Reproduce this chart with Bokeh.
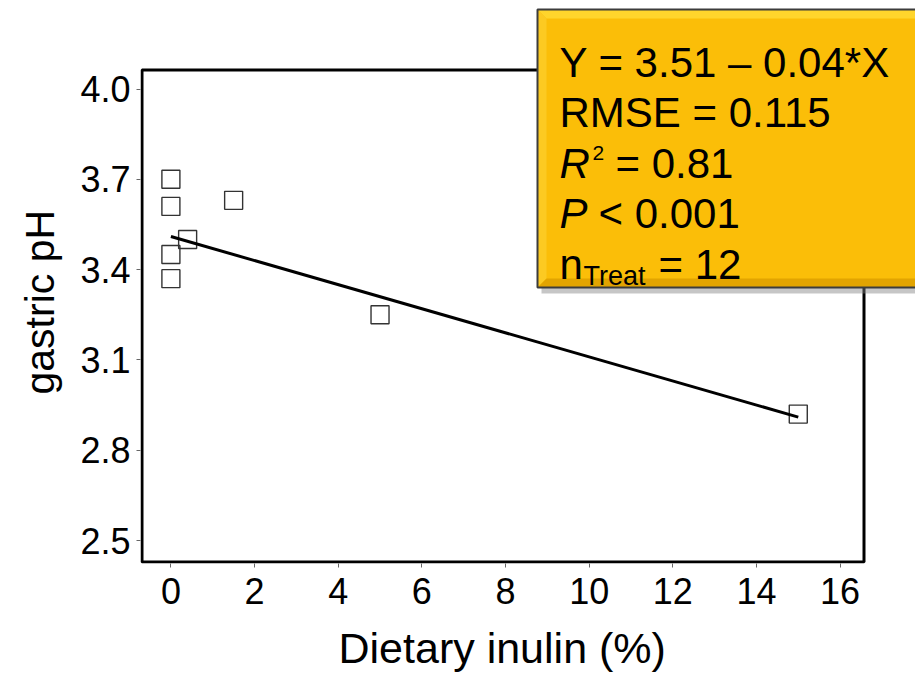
from bokeh.plotting import figure
from bokeh.models import (Range1d, FixedTicker, PrintfTickFormatter, Label, Title,
                          BoxAnnotation, PolyAnnotation, ColumnDataSource)
from bokeh.embed import file_html
from bokeh.resources import INLINE

# ---- data ----
inulin = [0, 0, 0, 0, 0.4, 1.5, 5, 15]
ph = [3.70, 3.61, 3.45, 3.37, 3.50, 3.63, 3.25, 2.92]
fit_x = [0, 15]
fit_y = [3.51, 2.91]
x_ticks = [0, 2, 4, 6, 8, 10, 12, 14, 16]
y_ticks = [2.5, 2.8, 3.1, 3.4, 3.7, 4.0]
x_title = "Dietary inulin (%)"
y_title = "gastric pH"
stats_lines = ["Y = 3.51 \u2013 0.04*X", "RMSE = 0.115", "= 0.81", "< 0.001", "= 12"]

FONT = "Liberation Sans"
W, H = 915, 674

# canvas-pixel layout: the bokeh frame spans from the left/bottom axes to the
# top/right canvas edges, so the statistics box can sit over the plot border.
FL, FB = 140, 563
XPX = 16 / 669.2          # data units per pixel (x)
YPX = 1.5 / 451.5         # data units per pixel (y)
X0 = 0 - (170.4 - FL) * XPX
X1 = X0 + (W - FL) * XPX
Y0 = 2.5 - (FB - 540) * YPX
Y1 = Y0 + FB * YPX


def dx(px):
    return X0 + (px - FL) * XPX


def dy(py):
    return Y0 + (FB - py) * YPX


p = figure(frame_width=W - FL, frame_height=FB,
           min_border_left=FL, min_border_top=0,
           min_border_right=0, min_border_bottom=H - FB,
           x_range=Range1d(X0, X1), y_range=Range1d(Y0, Y1),
           output_backend="svg", toolbar_location=None)

p.background_fill_color = "white"
p.border_fill_color = "white"
p.outline_line_color = None
p.xgrid.visible = False
p.ygrid.visible = False

p.xaxis.ticker = FixedTicker(ticks=x_ticks)
p.yaxis.ticker = FixedTicker(ticks=y_ticks)
p.yaxis.formatter = PrintfTickFormatter(format="%.1f")
for ax in (p.xaxis, p.yaxis):
    ax.axis_line_color = None
    ax.major_tick_in = 0
    ax.major_tick_out = 4
    ax.major_tick_line_color = "#666666"
    ax.minor_tick_line_color = None
    ax.major_label_text_font = FONT
    ax.major_label_text_font_size = "36px"
    ax.major_label_text_color = "black"
p.xaxis.major_label_standoff = 10
p.yaxis.major_label_standoff = 6

# axis titles (placed as side-panel titles so they centre on the visible box)
p.add_layout(Title(text=x_title, align="left", offset=198, vertical_align="bottom",
                   standoff=30, text_font=FONT, text_font_size="43px",
                   text_font_style="normal", text_color="black"), "below")
p.add_layout(Title(text=y_title, align="left", offset=169, vertical_align="bottom",
                   standoff=29, text_font=FONT, text_font_size="41px",
                   text_font_style="normal", text_color="black"), "left")

# visible plot border
p.add_layout(BoxAnnotation(left=dx(141.5), right=dx(863.5), top=dy(69.5), bottom=dy(561.5),
                           fill_alpha=0, line_color="black", line_alpha=1.0,
                           line_width=3, level="underlay"))

src = ColumnDataSource(dict(x=inulin, y=ph))
p.scatter("x", "y", source=src, marker="square", size=18,
          fill_color=None, line_color="#333333", line_width=1.4)
p.line(fit_x, fit_y, line_color="black", line_width=3)

# ---- yellow statistics box ----
BL, BRt, BT, BB = 537, 925, 9, 287
p.add_layout(BoxAnnotation(left=dx(BL + 4), right=dx(BRt + 6), top=dy(BT + 5), bottom=dy(BB + 6),
                           fill_color="#808080", fill_alpha=0.45, line_color=None))
p.add_layout(BoxAnnotation(left=dx(BL), right=dx(BRt), top=dy(BT), bottom=dy(BB),
                           fill_color="#FBBE08", fill_alpha=1.0, line_color=None))
bv = 9
p.add_layout(PolyAnnotation(xs=[dx(BL), dx(BRt), dx(BRt - bv), dx(BL + bv)],
                            ys=[dy(BT), dy(BT), dy(BT + bv), dy(BT + bv)],
                            fill_color="#FFD52C", fill_alpha=1.0, line_color=None))
p.add_layout(PolyAnnotation(xs=[dx(BL), dx(BL + bv), dx(BL + bv), dx(BL)],
                            ys=[dy(BT), dy(BT + bv), dy(BB - bv), dy(BB)],
                            fill_color="#FCCA22", fill_alpha=1.0, line_color=None))
p.add_layout(PolyAnnotation(xs=[dx(BL), dx(BL + bv), dx(BRt - bv), dx(BRt)],
                            ys=[dy(BB), dy(BB - bv), dy(BB - bv), dy(BB)],
                            fill_color="#E2A400", fill_alpha=1.0, line_color=None))
p.add_layout(BoxAnnotation(left=dx(BL), right=dx(BRt), top=dy(BT), bottom=dy(BB),
                           fill_alpha=0, line_color="#3c3c3c", line_alpha=1.0, line_width=2))


def lab(text, px, py, size, style="normal"):
    p.add_layout(Label(x=dx(px), y=dy(py), text=text, text_font=FONT,
                       text_font_size=f"{size}px", text_font_style=style,
                       text_color="black", text_baseline="alphabetic",
                       text_align="left"))


TX = 559
lab(stats_lines[0], TX, 62, 42)
lab(stats_lines[1], TX, 112, 42)
lab("R", TX, 163, 42, "italic")
lab("2", 592, 152, 21)
lab(stats_lines[2], 615, 163, 42)
lab("P", TX, 213, 42, "italic")
lab(stats_lines[3], 598, 213, 42)
lab("n", TX, 264, 42)
lab("Treat", 583, 275, 27)
lab(stats_lines[4], 658, 264, 42)

open("out.html", "w").write(file_html(p, INLINE))
